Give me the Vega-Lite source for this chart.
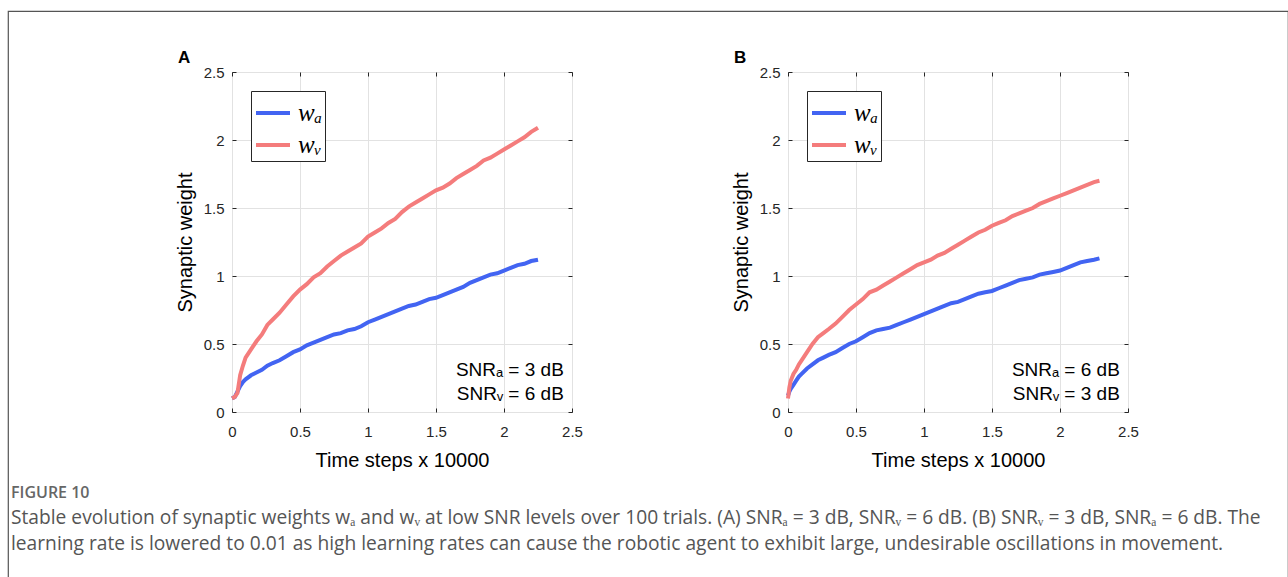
{
  "$schema": "https://vega.github.io/schema/vega-lite/v6.json",
  "padding": {"left": 7, "top": 10, "right": 0, "bottom": 0},
  "autosize": {"type": "pad"},
  "background": "#ffffff",
  "config": {
    "font": "Liberation Sans",
    "view": {"stroke": "#262626", "strokeWidth": 1},
    "axis": {
      "labelFont": "Liberation Sans", "labelFontSize": 15, "labelColor": "#262626", "labelFlush": false,
      "titleFont": "Liberation Sans", "titleFontSize": 20, "titleFontWeight": "normal", "titleColor": "#000000",
      "tickColor": "#262626", "tickSize": -4, "gridColor": "#e2e2e2", "domain": false
    },
    "legend": {
      "orient": "top-left", "offset": 19, "title": null,
      "symbolType": "stroke", "symbolSize": 1156, "symbolStrokeWidth": 4,
      "labelFont": "Liberation Serif", "labelFontStyle": "italic", "labelFontSize": 25, "labelColor": "#000000",
      "labelOffset": 6, "padding": 3, "rowPadding": -2,
      "strokeColor": "#262626", "fillColor": "#ffffff"
    }
  },
  "datasets": {
    "panelA": [
      {"t":0,"w":0.10,"s":"wₐ"},{"t":0.02,"w":0.11,"s":"wₐ"},{"t":0.04,"w":0.15,"s":"wₐ"},{"t":0.06,"w":0.19,"s":"wₐ"},{"t":0.08,"w":0.22,"s":"wₐ"},{"t":0.10,"w":0.24,"s":"wₐ"},{"t":0.14,"w":0.27,"s":"wₐ"},{"t":0.18,"w":0.29,"s":"wₐ"},{"t":0.22,"w":0.31,"s":"wₐ"},{"t":0.26,"w":0.34,"s":"wₐ"},{"t":0.30,"w":0.36,"s":"wₐ"},{"t":0.35,"w":0.38,"s":"wₐ"},{"t":0.40,"w":0.41,"s":"wₐ"},{"t":0.45,"w":0.44,"s":"wₐ"},{"t":0.50,"w":0.46,"s":"wₐ"},{"t":0.55,"w":0.49,"s":"wₐ"},{"t":0.60,"w":0.51,"s":"wₐ"},{"t":0.65,"w":0.53,"s":"wₐ"},{"t":0.70,"w":0.55,"s":"wₐ"},{"t":0.75,"w":0.57,"s":"wₐ"},{"t":0.80,"w":0.58,"s":"wₐ"},{"t":0.85,"w":0.60,"s":"wₐ"},{"t":0.90,"w":0.61,"s":"wₐ"},{"t":0.95,"w":0.63,"s":"wₐ"},{"t":1.00,"w":0.66,"s":"wₐ"},{"t":1.05,"w":0.68,"s":"wₐ"},{"t":1.10,"w":0.70,"s":"wₐ"},{"t":1.15,"w":0.72,"s":"wₐ"},{"t":1.20,"w":0.74,"s":"wₐ"},{"t":1.25,"w":0.76,"s":"wₐ"},{"t":1.30,"w":0.78,"s":"wₐ"},{"t":1.35,"w":0.79,"s":"wₐ"},{"t":1.40,"w":0.81,"s":"wₐ"},{"t":1.45,"w":0.83,"s":"wₐ"},{"t":1.50,"w":0.84,"s":"wₐ"},{"t":1.55,"w":0.86,"s":"wₐ"},{"t":1.60,"w":0.88,"s":"wₐ"},{"t":1.65,"w":0.90,"s":"wₐ"},{"t":1.70,"w":0.92,"s":"wₐ"},{"t":1.75,"w":0.95,"s":"wₐ"},{"t":1.80,"w":0.97,"s":"wₐ"},{"t":1.85,"w":0.99,"s":"wₐ"},{"t":1.90,"w":1.01,"s":"wₐ"},{"t":1.95,"w":1.02,"s":"wₐ"},{"t":2.00,"w":1.04,"s":"wₐ"},{"t":2.05,"w":1.06,"s":"wₐ"},{"t":2.10,"w":1.08,"s":"wₐ"},{"t":2.15,"w":1.09,"s":"wₐ"},{"t":2.20,"w":1.11,"s":"wₐ"},{"t":2.25,"w":1.12,"s":"wₐ"},
      {"t":0,"w":0.10,"s":"wᵥ"},{"t":0.02,"w":0.11,"s":"wᵥ"},{"t":0.04,"w":0.14,"s":"wᵥ"},{"t":0.06,"w":0.27,"s":"wᵥ"},{"t":0.08,"w":0.34,"s":"wᵥ"},{"t":0.10,"w":0.40,"s":"wᵥ"},{"t":0.14,"w":0.46,"s":"wᵥ"},{"t":0.18,"w":0.52,"s":"wᵥ"},{"t":0.22,"w":0.57,"s":"wᵥ"},{"t":0.26,"w":0.64,"s":"wᵥ"},{"t":0.30,"w":0.68,"s":"wᵥ"},{"t":0.35,"w":0.73,"s":"wᵥ"},{"t":0.40,"w":0.79,"s":"wᵥ"},{"t":0.45,"w":0.85,"s":"wᵥ"},{"t":0.50,"w":0.90,"s":"wᵥ"},{"t":0.55,"w":0.94,"s":"wᵥ"},{"t":0.60,"w":0.99,"s":"wᵥ"},{"t":0.65,"w":1.02,"s":"wᵥ"},{"t":0.70,"w":1.07,"s":"wᵥ"},{"t":0.75,"w":1.11,"s":"wᵥ"},{"t":0.80,"w":1.15,"s":"wᵥ"},{"t":0.85,"w":1.18,"s":"wᵥ"},{"t":0.90,"w":1.21,"s":"wᵥ"},{"t":0.95,"w":1.24,"s":"wᵥ"},{"t":1.00,"w":1.29,"s":"wᵥ"},{"t":1.05,"w":1.32,"s":"wᵥ"},{"t":1.10,"w":1.35,"s":"wᵥ"},{"t":1.15,"w":1.39,"s":"wᵥ"},{"t":1.20,"w":1.42,"s":"wᵥ"},{"t":1.25,"w":1.47,"s":"wᵥ"},{"t":1.30,"w":1.51,"s":"wᵥ"},{"t":1.35,"w":1.54,"s":"wᵥ"},{"t":1.40,"w":1.57,"s":"wᵥ"},{"t":1.45,"w":1.60,"s":"wᵥ"},{"t":1.50,"w":1.63,"s":"wᵥ"},{"t":1.55,"w":1.65,"s":"wᵥ"},{"t":1.60,"w":1.68,"s":"wᵥ"},{"t":1.65,"w":1.72,"s":"wᵥ"},{"t":1.70,"w":1.75,"s":"wᵥ"},{"t":1.75,"w":1.78,"s":"wᵥ"},{"t":1.80,"w":1.81,"s":"wᵥ"},{"t":1.85,"w":1.85,"s":"wᵥ"},{"t":1.90,"w":1.87,"s":"wᵥ"},{"t":1.95,"w":1.90,"s":"wᵥ"},{"t":2.00,"w":1.93,"s":"wᵥ"},{"t":2.05,"w":1.96,"s":"wᵥ"},{"t":2.10,"w":1.99,"s":"wᵥ"},{"t":2.15,"w":2.02,"s":"wᵥ"},{"t":2.20,"w":2.06,"s":"wᵥ"},{"t":2.25,"w":2.09,"s":"wᵥ"}
    ],
    "panelB": [
      {"t":0,"w":0.12,"s":"wₐ"},{"t":0.01,"w":0.15,"s":"wₐ"},{"t":0.02,"w":0.17,"s":"wₐ"},{"t":0.04,"w":0.20,"s":"wₐ"},{"t":0.06,"w":0.23,"s":"wₐ"},{"t":0.08,"w":0.26,"s":"wₐ"},{"t":0.10,"w":0.28,"s":"wₐ"},{"t":0.14,"w":0.32,"s":"wₐ"},{"t":0.18,"w":0.35,"s":"wₐ"},{"t":0.22,"w":0.38,"s":"wₐ"},{"t":0.26,"w":0.40,"s":"wₐ"},{"t":0.30,"w":0.42,"s":"wₐ"},{"t":0.35,"w":0.44,"s":"wₐ"},{"t":0.40,"w":0.47,"s":"wₐ"},{"t":0.45,"w":0.50,"s":"wₐ"},{"t":0.50,"w":0.52,"s":"wₐ"},{"t":0.55,"w":0.55,"s":"wₐ"},{"t":0.60,"w":0.58,"s":"wₐ"},{"t":0.65,"w":0.60,"s":"wₐ"},{"t":0.70,"w":0.61,"s":"wₐ"},{"t":0.75,"w":0.62,"s":"wₐ"},{"t":0.80,"w":0.64,"s":"wₐ"},{"t":0.85,"w":0.66,"s":"wₐ"},{"t":0.90,"w":0.68,"s":"wₐ"},{"t":0.95,"w":0.70,"s":"wₐ"},{"t":1.00,"w":0.72,"s":"wₐ"},{"t":1.05,"w":0.74,"s":"wₐ"},{"t":1.10,"w":0.76,"s":"wₐ"},{"t":1.15,"w":0.78,"s":"wₐ"},{"t":1.20,"w":0.80,"s":"wₐ"},{"t":1.25,"w":0.81,"s":"wₐ"},{"t":1.30,"w":0.83,"s":"wₐ"},{"t":1.35,"w":0.85,"s":"wₐ"},{"t":1.40,"w":0.87,"s":"wₐ"},{"t":1.45,"w":0.88,"s":"wₐ"},{"t":1.50,"w":0.89,"s":"wₐ"},{"t":1.55,"w":0.91,"s":"wₐ"},{"t":1.60,"w":0.93,"s":"wₐ"},{"t":1.65,"w":0.95,"s":"wₐ"},{"t":1.70,"w":0.97,"s":"wₐ"},{"t":1.75,"w":0.98,"s":"wₐ"},{"t":1.80,"w":0.99,"s":"wₐ"},{"t":1.85,"w":1.01,"s":"wₐ"},{"t":1.90,"w":1.02,"s":"wₐ"},{"t":1.95,"w":1.03,"s":"wₐ"},{"t":2.00,"w":1.04,"s":"wₐ"},{"t":2.05,"w":1.06,"s":"wₐ"},{"t":2.10,"w":1.08,"s":"wₐ"},{"t":2.15,"w":1.10,"s":"wₐ"},{"t":2.20,"w":1.11,"s":"wₐ"},{"t":2.25,"w":1.12,"s":"wₐ"},{"t":2.29,"w":1.13,"s":"wₐ"},
      {"t":0,"w":0.10,"s":"wᵥ"},{"t":0.01,"w":0.18,"s":"wᵥ"},{"t":0.02,"w":0.23,"s":"wᵥ"},{"t":0.04,"w":0.28,"s":"wᵥ"},{"t":0.06,"w":0.31,"s":"wᵥ"},{"t":0.08,"w":0.35,"s":"wᵥ"},{"t":0.10,"w":0.38,"s":"wᵥ"},{"t":0.14,"w":0.44,"s":"wᵥ"},{"t":0.18,"w":0.50,"s":"wᵥ"},{"t":0.22,"w":0.55,"s":"wᵥ"},{"t":0.26,"w":0.58,"s":"wᵥ"},{"t":0.30,"w":0.61,"s":"wᵥ"},{"t":0.35,"w":0.65,"s":"wᵥ"},{"t":0.40,"w":0.70,"s":"wᵥ"},{"t":0.45,"w":0.75,"s":"wᵥ"},{"t":0.50,"w":0.79,"s":"wᵥ"},{"t":0.55,"w":0.83,"s":"wᵥ"},{"t":0.60,"w":0.88,"s":"wᵥ"},{"t":0.65,"w":0.90,"s":"wᵥ"},{"t":0.70,"w":0.93,"s":"wᵥ"},{"t":0.75,"w":0.96,"s":"wᵥ"},{"t":0.80,"w":0.99,"s":"wᵥ"},{"t":0.85,"w":1.02,"s":"wᵥ"},{"t":0.90,"w":1.05,"s":"wᵥ"},{"t":0.95,"w":1.08,"s":"wᵥ"},{"t":1.00,"w":1.10,"s":"wᵥ"},{"t":1.05,"w":1.12,"s":"wᵥ"},{"t":1.10,"w":1.15,"s":"wᵥ"},{"t":1.15,"w":1.17,"s":"wᵥ"},{"t":1.20,"w":1.20,"s":"wᵥ"},{"t":1.25,"w":1.23,"s":"wᵥ"},{"t":1.30,"w":1.26,"s":"wᵥ"},{"t":1.35,"w":1.29,"s":"wᵥ"},{"t":1.40,"w":1.32,"s":"wᵥ"},{"t":1.45,"w":1.34,"s":"wᵥ"},{"t":1.50,"w":1.37,"s":"wᵥ"},{"t":1.55,"w":1.39,"s":"wᵥ"},{"t":1.60,"w":1.41,"s":"wᵥ"},{"t":1.65,"w":1.44,"s":"wᵥ"},{"t":1.70,"w":1.46,"s":"wᵥ"},{"t":1.75,"w":1.48,"s":"wᵥ"},{"t":1.80,"w":1.50,"s":"wᵥ"},{"t":1.85,"w":1.53,"s":"wᵥ"},{"t":1.90,"w":1.55,"s":"wᵥ"},{"t":1.95,"w":1.57,"s":"wᵥ"},{"t":2.00,"w":1.59,"s":"wᵥ"},{"t":2.05,"w":1.61,"s":"wᵥ"},{"t":2.10,"w":1.63,"s":"wᵥ"},{"t":2.15,"w":1.65,"s":"wᵥ"},{"t":2.20,"w":1.67,"s":"wᵥ"},{"t":2.25,"w":1.69,"s":"wᵥ"},{"t":2.29,"w":1.70,"s":"wᵥ"}
    ]
  },
  "columns": 1,
  "align": "none",
  "spacing": -544,
  "concat": [
    {
      "width": 1280, "height": 580,
      "data": {"values": [{}]},
      "mark": {"type": "text", "text": ""},
      "encoding": {},
      "view": {"stroke": "#555555", "strokeWidth": 1.2, "fill": null},
      "title": {
        "text": "FIGURE 10",
        "subtitle": [
          "Stable evolution of synaptic weights wₐ and wᵥ at low SNR levels over 100 trials. (A) SNRₐ = 3 dB, SNRᵥ = 6 dB. (B) SNRᵥ = 3 dB, SNRₐ = 6 dB. The",
          "learning rate is lowered to 0.01 as high learning rates can cause the robotic agent to exhibit large, undesirable oscillations in movement."
        ],
        "orient": "bottom", "anchor": "start", "frame": "group", "dx": 3, "offset": -106,
        "font": "Open Sans", "fontSize": 16, "fontWeight": 600, "color": "#666666",
        "subtitleFont": "Open Sans", "subtitleFontSize": 19.2, "subtitleColor": "#555555",
        "subtitleLineHeight": 26, "subtitlePadding": 8
      }
    },
    {
      "bounds": "flush",
      "spacing": 216,
      "resolve": {"scale": {"color": "independent"}, "legend": {"color": "independent"}},
      "hconcat": [
        {
          "width": 8, "height": 340,
          "data": {"values": [{}]},
          "mark": {"type": "text", "text": ""},
          "encoding": {},
          "view": {"stroke": null, "fill": null}
        },
        {
          "width": 340, "height": 340,
          "title": {"text": "A", "anchor": "start", "frame": "group", "dx": -54, "offset": -2, "fontSize": 17, "fontWeight": "bold", "font": "Liberation Sans", "color": "#000000"},
          "layer": [
            {
              "data": {"name": "panelA"},
              "mark": {"type": "line", "strokeWidth": 4, "interpolate": "linear"},
              "encoding": {
                "x": {"field": "t", "type": "quantitative", "scale": {"domain": [0, 2.5], "nice": false},
                      "axis": {"orient": "bottom", "values": [0, 0.5, 1, 1.5, 2, 2.5], "format": "~g", "title": "Time steps x 10000", "grid": true, "labelPadding": 16, "titlePadding": 11}},
                "y": {"field": "w", "type": "quantitative", "scale": {"domain": [0, 2.5], "nice": false},
                      "axis": {"orient": "left", "values": [0, 0.5, 1, 1.5, 2, 2.5], "format": "~g", "title": "Synaptic weight", "grid": true, "labelPadding": 12, "titlePadding": 8}},
                "color": {"field": "s", "type": "nominal", "scale": {"domain": ["wₐ", "wᵥ"], "range": ["#4264f2", "#f47c7c"]}}
              }
            },
            {
              "data": {"values": [{}]},
              "mark": {"type": "text", "text": "SNRₐ = 3 dB", "align": "right", "baseline": "alphabetic", "fontSize": 19, "font": "Liberation Sans", "color": "#000000"},
              "encoding": {
                "x": {"datum": 2.44, "type": "quantitative", "axis": {"orient": "top", "values": [0, 0.5, 1, 1.5, 2, 2.5], "labels": false, "title": null, "grid": false}},
                "y": {"datum": 0.262, "type": "quantitative", "axis": {"orient": "right", "values": [0, 0.5, 1, 1.5, 2, 2.5], "labels": false, "title": null, "grid": false}}
              }
            },
            {
              "data": {"values": [{}]},
              "mark": {"type": "text", "text": "SNRᵥ = 6 dB", "align": "right", "baseline": "alphabetic", "fontSize": 19, "font": "Liberation Sans", "color": "#000000"},
              "encoding": {
                "x": {"datum": 2.44, "type": "quantitative", "axis": null},
                "y": {"datum": 0.088, "type": "quantitative", "axis": null}
              }
            }
          ],
          "resolve": {"axis": {"x": "independent", "y": "independent"}}
        },
        {
          "width": 340, "height": 340,
          "title": {"text": "B", "anchor": "start", "frame": "group", "dx": -54, "offset": -2, "fontSize": 17, "fontWeight": "bold", "font": "Liberation Sans", "color": "#000000"},
          "layer": [
            {
              "data": {"name": "panelB"},
              "mark": {"type": "line", "strokeWidth": 4, "interpolate": "linear"},
              "encoding": {
                "x": {"field": "t", "type": "quantitative", "scale": {"domain": [0, 2.5], "nice": false},
                      "axis": {"orient": "bottom", "values": [0, 0.5, 1, 1.5, 2, 2.5], "format": "~g", "title": "Time steps x 10000", "grid": true, "labelPadding": 16, "titlePadding": 11}},
                "y": {"field": "w", "type": "quantitative", "scale": {"domain": [0, 2.5], "nice": false},
                      "axis": {"orient": "left", "values": [0, 0.5, 1, 1.5, 2, 2.5], "format": "~g", "title": "Synaptic weight", "grid": true, "labelPadding": 12, "titlePadding": 8}},
                "color": {"field": "s", "type": "nominal", "scale": {"domain": ["wₐ", "wᵥ"], "range": ["#4264f2", "#f47c7c"]}}
              }
            },
            {
              "data": {"values": [{}]},
              "mark": {"type": "text", "text": "SNRₐ = 6 dB", "align": "right", "baseline": "alphabetic", "fontSize": 19, "font": "Liberation Sans", "color": "#000000"},
              "encoding": {
                "x": {"datum": 2.44, "type": "quantitative", "axis": {"orient": "top", "values": [0, 0.5, 1, 1.5, 2, 2.5], "labels": false, "title": null, "grid": false}},
                "y": {"datum": 0.262, "type": "quantitative", "axis": {"orient": "right", "values": [0, 0.5, 1, 1.5, 2, 2.5], "labels": false, "title": null, "grid": false}}
              }
            },
            {
              "data": {"values": [{}]},
              "mark": {"type": "text", "text": "SNRᵥ = 3 dB", "align": "right", "baseline": "alphabetic", "fontSize": 19, "font": "Liberation Sans", "color": "#000000"},
              "encoding": {
                "x": {"datum": 2.44, "type": "quantitative", "axis": null},
                "y": {"datum": 0.088, "type": "quantitative", "axis": null}
              }
            }
          ],
          "resolve": {"axis": {"x": "independent", "y": "independent"}}
        }
      ]
    }
  ]
}
